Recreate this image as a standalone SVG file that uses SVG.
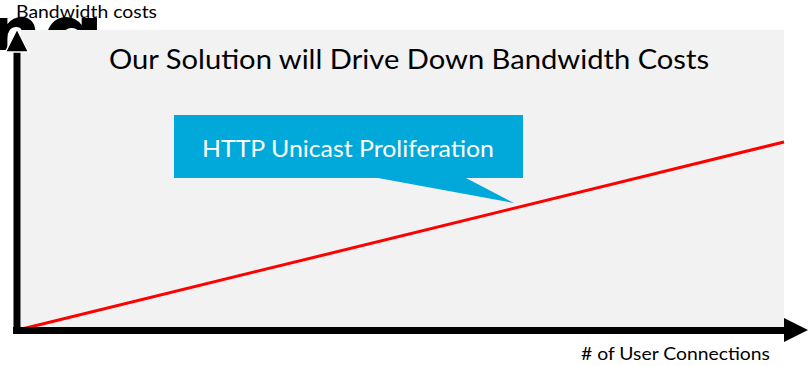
<svg xmlns="http://www.w3.org/2000/svg" width="808" height="366" viewBox="0 0 808 366">
  <style>
    .lbl { font-family: Lato, "Liberation Sans", sans-serif; fill: #000; }
    .big { font-family: "DejaVu Sans", sans-serif; font-weight: bold; fill: #000; }
    .axis { stroke: #000; stroke-width: 7; fill: none; }
  </style>
  <defs>
    <clipPath id="topclip"><rect x="0" y="16" width="120" height="34"/></clipPath>
  </defs>
  <rect width="808" height="366" fill="#fff"/>

  <!-- oversized glyphs peeking above the plot area -->
  <g id="stray-glyphs" clip-path="url(#topclip)">
    <text class="big" x="-12" y="59" font-size="75">n</text>
    <text class="big" x="42" y="66" font-size="87">q</text>
  </g>

  <!-- plot background -->
  <rect id="plot-area" x="21" y="30" width="763" height="299" fill="#f2f2f2"/>

  <text id="title" class="lbl" x="409" y="69" font-size="27" text-anchor="middle" textLength="600" lengthAdjust="spacingAndGlyphs">Our Solution will Drive Down Bandwidth Costs</text>

  <g id="trend-line">
    <line x1="22" y1="329" x2="784" y2="142" stroke="#ff0000" stroke-width="3"/>
  </g>

  <g id="callout">
    <polygon points="174,115 523,115 523,178 466,178 514,203 378,178 174,178" fill="#00a9da"/>
    <text class="lbl" x="348" y="157" font-size="24" style="fill:#fff" text-anchor="middle" textLength="292" lengthAdjust="spacingAndGlyphs">HTTP Unicast Proliferation</text>
  </g>

  <g id="axes">
    <line class="axis" x1="17" y1="334" x2="17" y2="48"/>
    <polygon points="17,29 5.5,52 28.5,52" fill="#000" stroke="#fff" stroke-width="1.5"/>
    <line class="axis" x1="13" y1="330.5" x2="786" y2="330.5"/>
    <polygon points="808,330 784,318 784,342" fill="#000"/>
  </g>

  <text id="y-label" class="lbl" x="16" y="18" font-size="16.5" textLength="141" lengthAdjust="spacingAndGlyphs">Bandwidth costs</text>
  <text id="x-label" class="lbl" x="581" y="360" font-size="16.5" textLength="189" lengthAdjust="spacingAndGlyphs"># of User Connections</text>
</svg>
